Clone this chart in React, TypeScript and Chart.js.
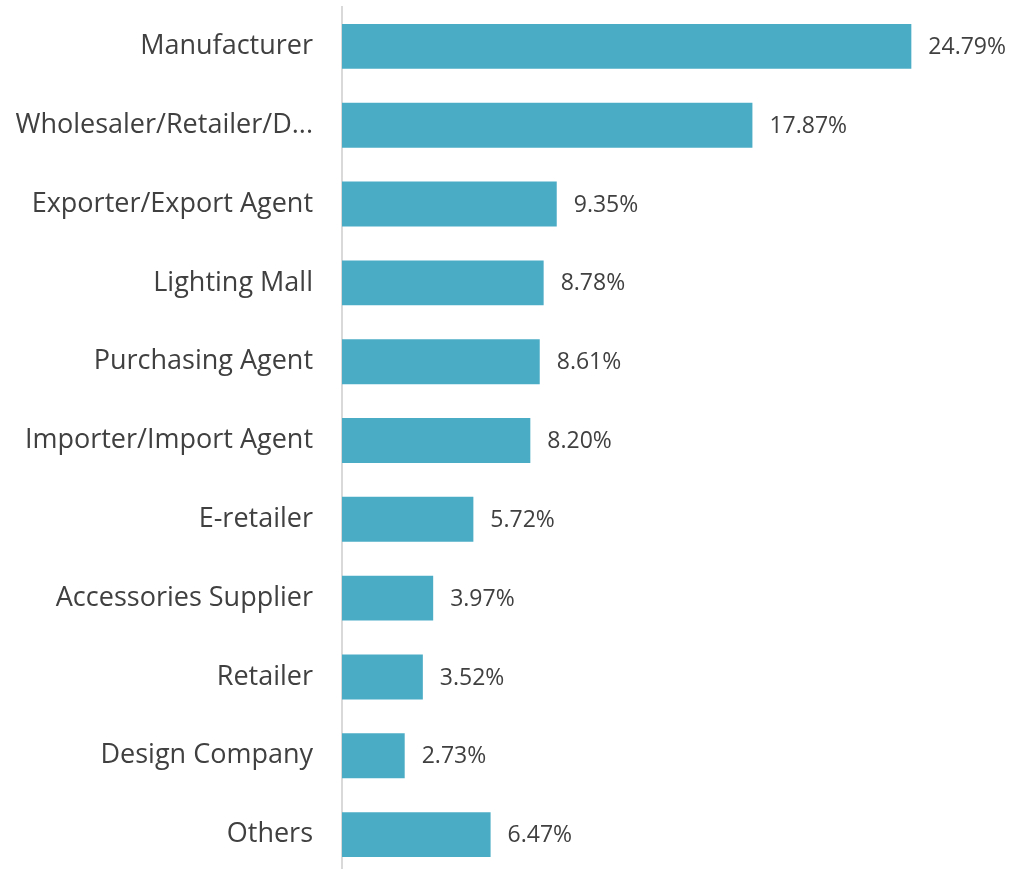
import React, { useEffect, useRef } from "react";
import { Chart, registerables } from "chart.js";

Chart.register(...registerables);

const categories = [
  "Manufacturer",
  "Wholesaler/Retailer/D...",
  "Exporter/Export Agent",
  "Lighting Mall",
  "Purchasing Agent",
  "Importer/Import Agent",
  "E-retailer",
  "Accessories Supplier",
  "Retailer",
  "Design Company",
  "Others",
];
const shares = [24.79, 17.87, 9.35, 8.78, 8.61, 8.2, 5.72, 3.97, 3.52, 2.73, 6.47];
const shareLabels = ["24.79%", "17.87%", "9.35%", "8.78%", "8.61%", "8.20%", "5.72%", "3.97%", "3.52%", "2.73%", "6.47%"];

const FONT = "'Open Sans', 'Noto Sans', sans-serif";

const valueLabelPlugin = {
  id: "valueLabels",
  afterDatasetsDraw(chart: any) {
    const { ctx } = chart;
    const meta = chart.getDatasetMeta(0);
    ctx.save();
    ctx.font = `23px ${FONT}`;
    ctx.fillStyle = "#404040";
    ctx.textAlign = "left";
    ctx.textBaseline = "middle";
    meta.data.forEach((bar: any, i: number) => {
      ctx.fillText(shareLabels[i], bar.x + 17, bar.y + 1);
    });
    ctx.restore();
  },
};

export default function App() {
  const ref = useRef<HTMLCanvasElement | null>(null);
  useEffect(() => {
    document.body.style.margin = "0";
    document.body.style.overflow = "hidden";
    const chart = new Chart(ref.current!, {
      type: "bar",
      data: {
        labels: categories,
        datasets: [
          {
            data: shares,
            backgroundColor: "#4BACC6",
            borderWidth: 0,
            barPercentage: 0.57,
            categoryPercentage: 1,
          },
        ],
      },
      options: {
        indexAxis: "y",
        animation: false,
        responsive: false,
        maintainAspectRatio: false,
        layout: { padding: { top: 7, right: 0, bottom: 0, left: 0 } },
        plugins: {
          legend: { display: false },
          tooltip: { enabled: false },
        },
        scales: {
          x: {
            display: false,
            min: 0,
            max: 30,
          },
          y: {
            afterFit(scale: any) {
              scale.width = 342;
              scale.paddingTop = 0;
              scale.paddingBottom = 0;
            },
            grid: { display: false },
            border: { display: true, color: "#D9D9D9", width: 2 },
            ticks: {
              color: "#404040",
              padding: 21,
              font: { family: FONT, size: 27 },
            },
          },
        },
      },
      plugins: [valueLabelPlugin],
    });
    return () => chart.destroy();
  }, []);
  return (
    <div style={{ width: 1031, height: 869, overflow: "hidden", background: "#fff" }}>
      <canvas ref={ref} width={1031} height={874} style={{ width: 1031, height: 874, display: "block" }} />
    </div>
  );
}
